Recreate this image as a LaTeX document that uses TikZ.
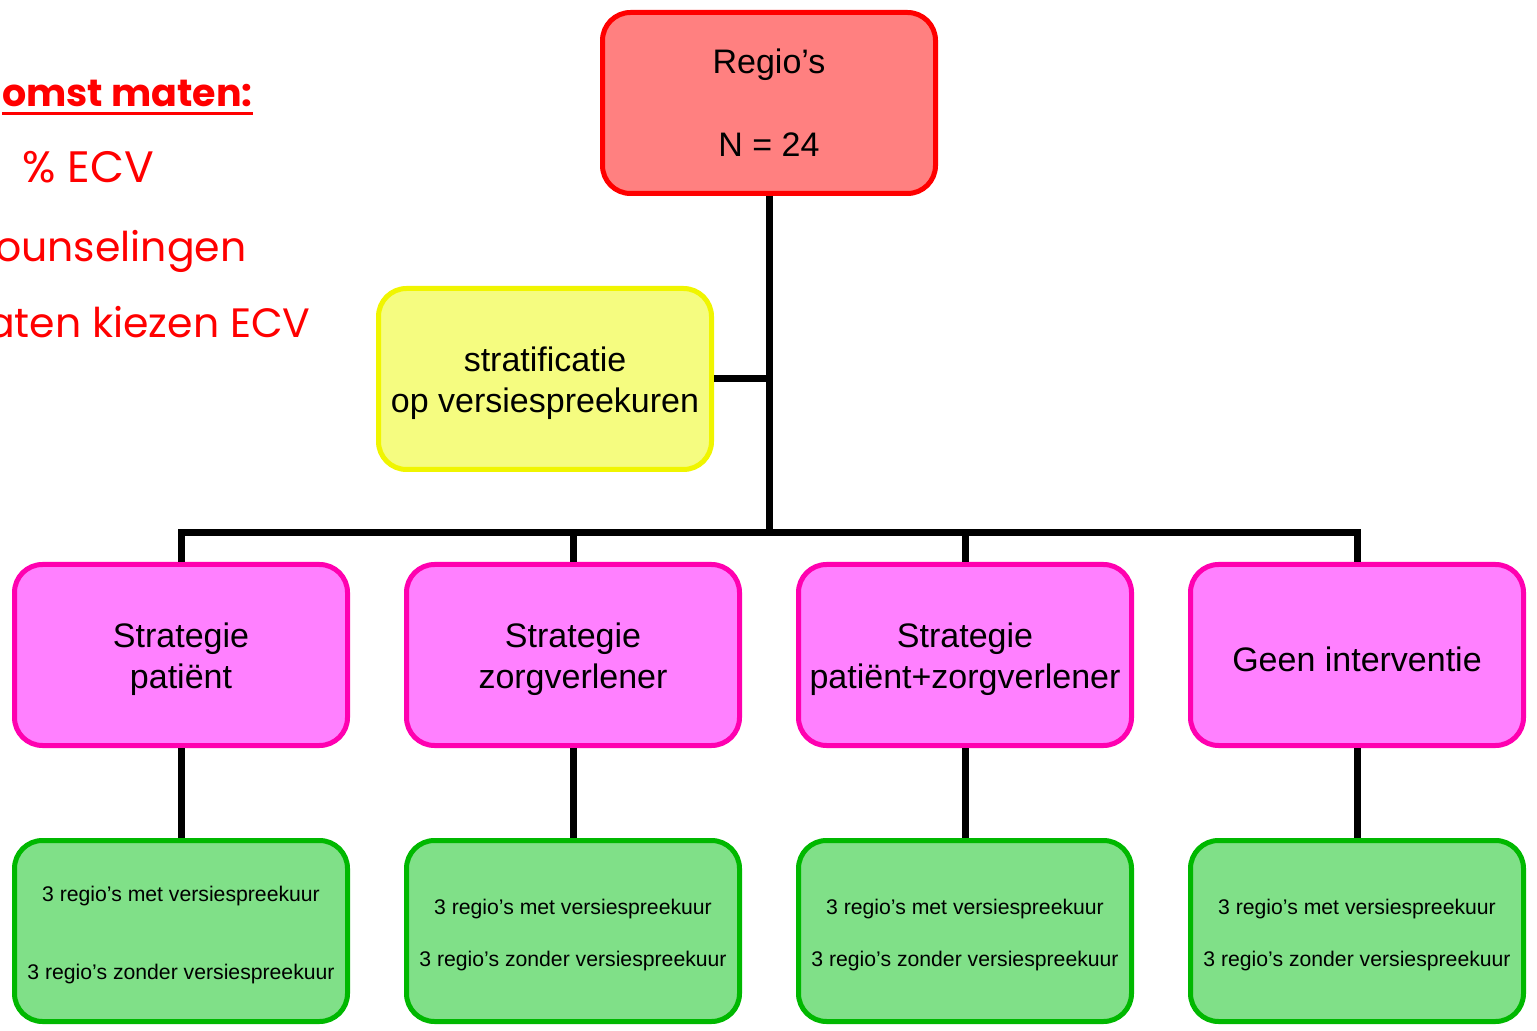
\documentclass[tikz,border=0pt]{standalone}
\usepackage{fontspec}
\setmainfont{Liberation Sans}
\newfontfamily\gothic{Poppins}
\usetikzlibrary{positioning}

\definecolor{boxred}{RGB}{255,128,128}
\definecolor{boxyellow}{RGB}{245,252,128}
\definecolor{lineyellow}{RGB}{240,245,0}
\definecolor{boxpink}{RGB}{255,128,255}
\definecolor{linepink}{RGB}{255,0,176}
\definecolor{boxgreen}{RGB}{128,224,136}
\definecolor{linegreen}{RGB}{0,184,0}

% steunstrut: duwt de tekst in de doos wat omlaag
\newcommand{\bigstrut}{\rule{0pt}{16.5pt}}
\newcommand{\smallstrut}{\rule{0pt}{11.6pt}}

\begin{document}
\begin{tikzpicture}[x=0.5pt,y=-0.5pt,
        base box/.style={rounded corners=14pt, line width=2.5pt, inner sep=0pt,
          minimum width=166.5pt, minimum height=90.5pt, align=center},
        red box/.style={base box, draw=red, fill=boxred, font=\fontsize{17}{20.5}\selectfont},
        yellow box/.style={base box, draw=lineyellow, fill=boxyellow, font=\fontsize{17}{20.5}\selectfont},
        pink box/.style={base box, draw=linepink, fill=boxpink, font=\fontsize{17}{20.5}\selectfont},
        green box/.style={base box, draw=linegreen, fill=boxgreen, font=\fontsize{10.6}{12.8}\selectfont},
        conn/.style={line width=3.5pt},
        red text/.style={text=red, inner sep=0pt, font=\gothic\fontsize{20.5}{24}\selectfont}]
        \useasboundingbox (0,0) rectangle (1537,1031);

        % uitkomstmaten (links afgesneden)
        \node[red text, anchor=base east, font=\gothic\bfseries\fontsize{19}{23}\selectfont] (title) at (253,107) {omst maten:};
        \draw[red, line width=1.5pt] ([yshift=-3.5pt]title.base west) -- ([yshift=-3.5pt]title.base east);
        \node[red text, anchor=base west, font=\gothic\fontsize{22}{26}\selectfont] (ecv) at (22,183) {\% ECV};
        \node[red text, anchor=base east] (couns) at (247,262) {ounselingen};
        \node[red text, anchor=base east] (kies)  at (311,338) {aten kiezen ECV};

        % boom
        \node[red box]    (regio) at (769,103) {Regio’s\\[21pt]N = 24};
        \node[yellow box] (strat) at (545,379) {\bigstrut stratificatie\\op versiespreekuren};
        \coordinate (bus) at (769,533);

        \node[pink box] (s1) at (181,655)  {\bigstrut Strategie\\patiënt};
        \node[pink box] (s2) at (573,655)  {\bigstrut Strategie\\zorgverlener};
        \node[pink box] (s3) at (965,655)  {\bigstrut Strategie\\patiënt+zorgverlener};
        \node[pink box] (s4) at (1357,655) {\bigstrut Geen interventie};

        \node[green box] (g1) at (181,931)  {\smallstrut 3 regio’s met versiespreekuur\\[25.8pt]3 regio’s zonder versiespreekuur};
        \node[green box] (g2) at (573,931)  {\smallstrut 3 regio’s met versiespreekuur\\[12.8pt]3 regio’s zonder versiespreekuur};
        \node[green box] (g3) at (965,931)  {\smallstrut 3 regio’s met versiespreekuur\\[12.8pt]3 regio’s zonder versiespreekuur};
        \node[green box] (g4) at (1357,931) {\smallstrut 3 regio’s met versiespreekuur\\[12.8pt]3 regio’s zonder versiespreekuur};

        \draw[conn] (regio.south) -- (bus);
        \draw[conn] (strat.east) -- (strat.east -| bus);
        \draw[conn] (s1.north) |- (bus) -| (s4.north);
        \draw[conn] (s2.north) -- (s2.north |- bus);
        \draw[conn] (s3.north) -- (s3.north |- bus);

        \draw[conn] (s1) -- (g1);
        \draw[conn] (s2) -- (g2);
        \draw[conn] (s3) -- (g3);
        \draw[conn] (s4) -- (g4);
      \end{tikzpicture}
\end{document}
